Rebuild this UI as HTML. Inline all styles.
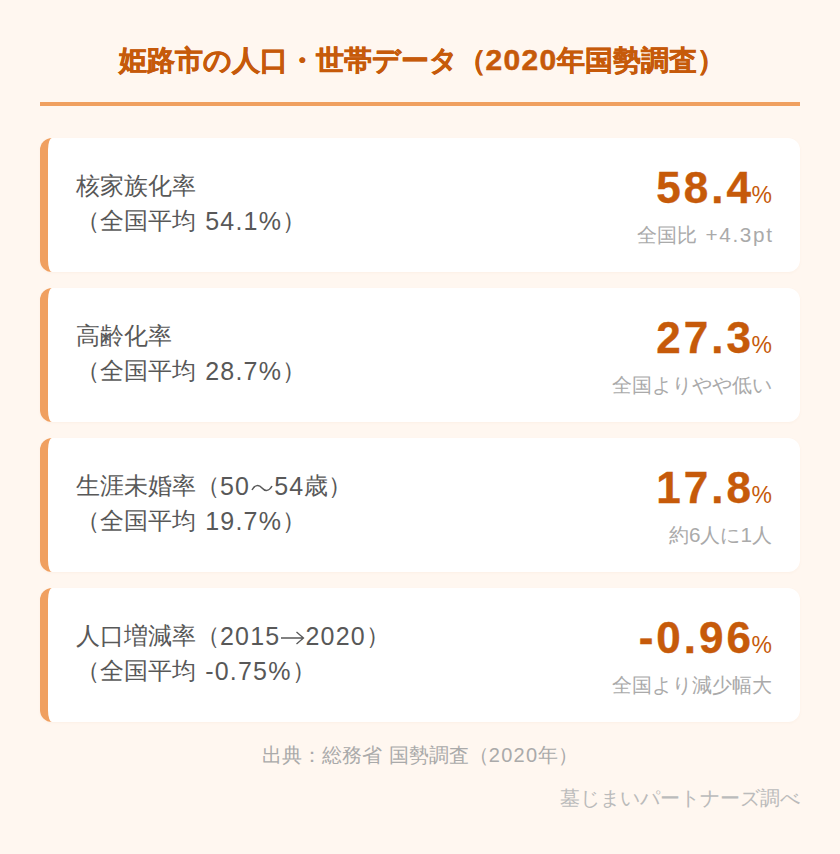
<!DOCTYPE html>
<html lang="ja">
<head>
<meta charset="utf-8">
<style>
html,body{margin:0;padding:0;}
body{width:840px;height:854px;background:#fff7f0;font-family:"Liberation Sans",sans-serif;position:relative;overflow:hidden;}
.title{position:absolute;left:2px;top:40px;width:840px;text-align:center;font-size:28px;font-weight:bold;color:#c65a0a;line-height:40px;white-space:nowrap;-webkit-text-stroke:0.5px #c65a0a;}
.title .n{font-size:30px;letter-spacing:1.3px;}
.rule{position:absolute;left:40px;top:102px;width:760px;height:4px;background:#f0a060;}
.card{position:absolute;left:40px;width:760px;height:134px;background:#fff;border-radius:12px;box-sizing:border-box;border-left:8px solid #f0a060;box-shadow:0 1px 3px rgba(200,120,60,0.05);}
.lbl{position:absolute;left:28px;top:30px;font-size:24px;color:#585858;line-height:35px;white-space:nowrap;}
.lbl .n{font-size:25px;letter-spacing:1.2px;position:relative;top:1px;}
.lbl .g{margin-left:2.5px;}
.val{position:absolute;right:28px;top:25px;text-align:right;color:#c65a0a;font-weight:bold;font-size:44px;line-height:50px;white-space:nowrap;-webkit-text-stroke:0.4px #c65a0a;}
.val .d{letter-spacing:3px;}
.val small{font-size:23px;font-weight:normal;margin-left:-2.4px;-webkit-text-stroke:0;}
.sub{position:absolute;right:28px;top:84px;text-align:right;color:#aaa;font-size:20px;line-height:26px;white-space:nowrap;}
.sub .n{font-size:20.7px;letter-spacing:1.7px;margin-right:-1.7px;}
.wave,.arr{vertical-align:middle;position:relative;top:0px;}
.src .n{letter-spacing:1.3px;}
.src .sp{margin-left:1.7px;}
.src{position:absolute;left:0;top:740px;width:840px;text-align:center;font-size:20px;color:#aaa;line-height:30px;white-space:nowrap;}
.by{position:absolute;right:40px;top:783px;font-size:20px;color:#bbb;line-height:30px;white-space:nowrap;}
</style>
</head>
<body>
<div class="title">姫路市の人口・世帯データ（<span class="n">2020</span>年国勢調査）</div>
<div class="rule"></div>

<div class="card" style="top:138px">
  <div class="lbl">核家族化率<br>（全国平均 <span class="n g">54.1%</span>）</div>
  <div class="val"><span class="d">58.4</span><small>%</small></div>
  <div class="sub">全国比 <span class="n" style="margin-left:2.5px">+4.3pt</span></div>
</div>
<div class="card" style="top:288px">
  <div class="lbl">高齢化率<br>（全国平均 <span class="n g">28.7%</span>）</div>
  <div class="val"><span class="d">27.3</span><small>%</small></div>
  <div class="sub">全国よりやや低い</div>
</div>
<div class="card" style="top:438px">
  <div class="lbl">生涯未婚率（<span class="n">50</span><svg class="wave" width="24" height="10" viewBox="0 0 24 10"><path d="M2 7 C5 1.5 9 1.5 12 5 C15 8.5 19 8.5 22 3" fill="none" stroke="#585858" stroke-width="1.5"/></svg><span class="n">54</span>歳）<br>（全国平均 <span class="n g">19.7%</span>）</div>
  <div class="val"><span class="d">17.8</span><small>%</small></div>
  <div class="sub">約<span class="n">6</span>人に<span class="n">1</span>人</div>
</div>
<div class="card" style="top:588px">
  <div class="lbl">人口増減率（<span class="n">2015</span><svg class="arr" width="25" height="14" viewBox="0 0 25 14"><path d="M1 7 H23.5 M16.5 1 L23.5 7 L16.5 13" fill="none" stroke="#585858" stroke-width="1.3"/></svg><span class="n">2020</span>）<br>（全国平均 <span class="n g">-0.75%</span>）</div>
  <div class="val"><span class="d">-0.96</span><small>%</small></div>
  <div class="sub">全国より減少幅大</div>
</div>

<div class="src">出典：総務省 <span class="sp"></span>国勢調査（<span class="n">2020</span>年）</div>
<div class="by">墓じまいパートナーズ調べ</div>
</body>
</html>
